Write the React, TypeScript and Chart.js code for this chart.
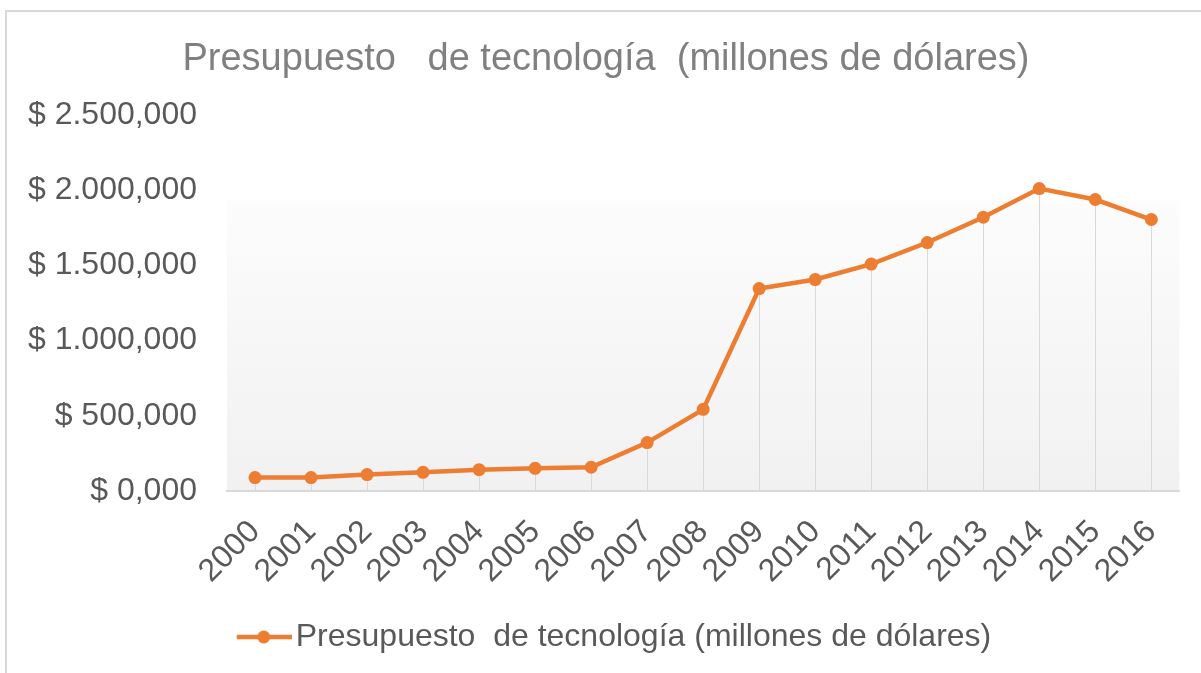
import React, { useEffect, useRef } from "react";
import { Chart, registerables } from "chart.js";

Chart.register(...registerables);

const years = ["2000", "2001", "2002", "2003", "2004", "2005", "2006", "2007", "2008", "2009", "2010", "2011", "2012", "2013", "2014", "2015", "2016"];
const budget = [89, 89, 109, 124, 142, 151, 158, 322, 543, 1346, 1406, 1509, 1652, 1820, 2011, 1938, 1805];
const yTicks = [0, 500, 1000, 1500, 2000, 2500];
const seriesLabel = "Presupuesto  de tecnología (millones de dólares)";
const titleText = "Presupuesto   de tecnología  (millones de dólares)";

const ORANGE = "#ED7D31";
const FONT = "'Liberation Sans', Arial, Helvetica, sans-serif";

function fmtMoney(v: number): string {
  const int = Math.round(v).toString().replace(/\B(?=(\d{3})+(?!\d))/g, ".");
  return "$ " + int + ",000";
}

function makeLegendIcon(): HTMLCanvasElement {
  const c = document.createElement("canvas");
  c.width = 83;
  c.height = 16;
  const ctx = c.getContext("2d")!;
  ctx.strokeStyle = ORANGE;
  ctx.lineWidth = 4.5;
  ctx.beginPath();
  ctx.moveTo(28, 8);
  ctx.lineTo(83, 8);
  ctx.stroke();
  ctx.fillStyle = ORANGE;
  ctx.beginPath();
  ctx.arc(55, 8, 6.5, 0, Math.PI * 2);
  ctx.fill();
  return c;
}

const plotBgPlugin = {
  id: "plotBg",
  beforeDraw(chart: any) {
    const { ctx, chartArea } = chart;
    if (!chartArea) return;
    const { left, right, top, bottom } = chartArea;
    const g = ctx.createLinearGradient(0, top, 0, bottom);
    g.addColorStop(0, "#ffffff");
    g.addColorStop(0.225, "#ffffff");
    g.addColorStop(0.23, "#fcfcfc");
    g.addColorStop(1, "#f1f1f1");
    ctx.save();
    ctx.fillStyle = g;
    ctx.fillRect(left, top, right - left, bottom - top);
    ctx.restore();
  },
};

const dropLinePlugin = {
  id: "dropLines",
  beforeDatasetsDraw(chart: any) {
    const { ctx, chartArea } = chart;
    const meta = chart.getDatasetMeta(0);
    ctx.save();
    ctx.strokeStyle = "#d9d9d9";
    ctx.lineWidth = 1;
    meta.data.forEach((pt: any) => {
      const x = Math.round(pt.x) + 0.5;
      ctx.beginPath();
      ctx.moveTo(x, pt.y);
      ctx.lineTo(x, chartArea.bottom);
      ctx.stroke();
    });
    ctx.restore();
  },
};

export default function App() {
  const canvasRef = useRef<HTMLCanvasElement | null>(null);

  useEffect(() => {
    const canvas = canvasRef.current;
    if (!canvas) return;
    const icon = makeLegendIcon();
    const chart = new Chart(canvas, {
      type: "line",
      data: {
        labels: years,
        datasets: [
          {
            label: seriesLabel,
            data: budget,
            borderColor: ORANGE,
            backgroundColor: ORANGE,
            borderWidth: 4.5,
            pointRadius: 6.5,
            pointBorderWidth: 0,
            pointBackgroundColor: ORANGE,
            tension: 0,
          },
        ],
      },
      options: {
        responsive: false,
        animation: false,
        devicePixelRatio: 1,
        layout: { padding: { left: 28, right: 17, top: 0, bottom: 10 } },
        plugins: {
          title: {
            display: true,
            text: titleText,
            color: "#808080",
            font: { family: FONT, size: 38, weight: "normal" },
            padding: { top: 36.5, bottom: 32.9 },
          },
          legend: {
            position: "bottom",
            labels: {
              usePointStyle: true,
              pointStyleWidth: 59,
              color: "#595959",
              padding: 18,
              font: { family: FONT, size: 32 },
              generateLabels: (ch: any) => {
                const items = (Chart.defaults.plugins.legend.labels as any).generateLabels(ch);
                return items.map((it: any) => ({ ...it, pointStyle: icon, fontColor: "#595959" }));
              },
            },
          },
          tooltip: { enabled: false },
        },
        scales: {
          x: {
            offset: true,
            grid: { display: false, drawTicks: false },
            border: { display: true, color: "#d9d9d9", width: 2 },
            afterFit: (scale: any) => {
              scale.height = 112;
            },
            ticks: {
              color: "#595959",
              font: { family: FONT, size: 32 },
              minRotation: 45,
              maxRotation: 45,
              padding: 22,
              autoSkip: false,
            },
          },
          y: {
            min: 0,
            max: 2500,
            grid: { display: false, drawTicks: false },
            border: { display: false },
            afterFit: (scale: any) => {
              scale.width = 199;
            },
            afterBuildTicks: (scale: any) => {
              scale.ticks = yTicks.map((v) => ({ value: v }));
            },
            ticks: {
              color: "#595959",
              font: { family: FONT, size: 32 },
              padding: 30,
              callback: (v: any) => fmtMoney(Number(v)),
            },
          },
        },
      },
      plugins: [plotBgPlugin, dropLinePlugin],
    });
    return () => chart.destroy();
  }, []);

  return (
    <div style={{ position: "fixed", left: 0, top: 0, width: 1201, height: 673, overflow: "hidden", background: "#ffffff" }}>
      <div
        style={{
          position: "absolute",
          left: 5,
          top: 10,
          width: 1400,
          height: 900,
          border: "2px solid #d9d9d9",
          boxSizing: "border-box",
        }}
      />
      <canvas ref={canvasRef} width={1201} height={673} style={{ position: "absolute", left: 0, top: 0, width: 1201, height: 673 }} />
    </div>
  );
}
